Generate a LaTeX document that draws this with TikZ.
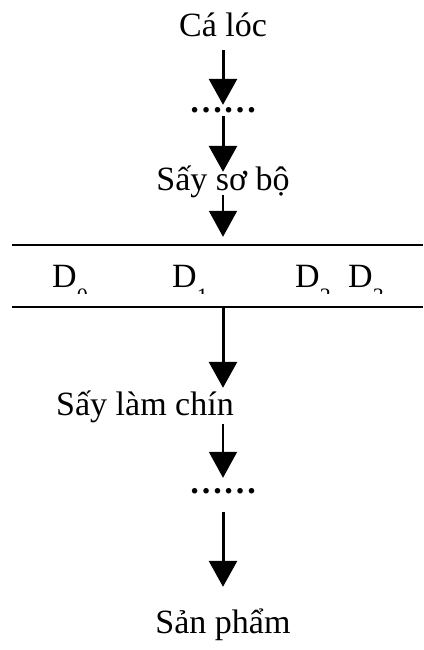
\documentclass[tikz,border=0pt]{standalone}
\usepackage{fontspec}
\setmainfont{Liberation Serif}
\usetikzlibrary{arrows.meta}

% lowered, smaller index after a sample letter
\newcommand{\lowidx}[1]{\raisebox{-16pt}{\fontsize{22}{22}\selectfont #1}}

\begin{document}
\begin{tikzpicture}[
        x=1pt, y=1pt,
        >={Triangle[length=26pt, width=28pt]},
        stage/.style={
            inner sep=0pt,
            text height=24pt,
            text depth=8pt,
            anchor=base,
            font=\fontsize{34}{40}\selectfont
        },
        dots/.style={
            inner sep=0pt,
            text height=4pt,
            text depth=0pt,
            anchor=base,
            font=\fontsize{34}{40}\selectfont\bfseries
        },
        sample/.style={
            inner sep=0pt,
            anchor=base west,
            font=\fontsize{34}{40}\selectfont
        },
        arrow/.style={
            ->,
            line width=3pt
        },
        thin arrow/.style={
            ->,
            line width=2pt
        },
        band line/.style={
            line width=2.2pt
        }
    ]

    \useasboundingbox (0,0) rectangle (423,-650);

    \node (caloc) [stage] at (223,-37) {Cá lóc};

    \node (dots1) [dots] at (223,-113) {……};

    \node (soBo) [stage] at (223,-190) {Sấy sơ bộ};

    \node (band) [minimum width=411pt, minimum height=62pt, inner sep=0pt] at (217.5,-276) {};

    \node (lamChin) [stage] at (145,-415) {Sấy làm chín};

    \node (dots2) [dots] at (223,-493) {……};

    \node (sanPham) [stage] at (223,-633) {Sản phẩm};

    % sample row between the two rules
    \draw [band line] (band.north west) -- (band.north east);
    \draw [band line] (band.south west) -- (band.south east);

    \begin{scope}
        \clip (band.north west) rectangle (423,-293);
        \node (d0) [sample] at (52,-287) {D\lowidx{0}};
        \node (d1) [sample] at (172,-287) {D\lowidx{1}};
        \node (d2) [sample] at (295,-287) {D\lowidx{2}};
        \node (d3) [sample] at (348,-287) {D\lowidx{3}};
    \end{scope}

    \draw [arrow, shorten <=5pt, shorten >=4pt] (caloc.south) -- (dots1.north);

    \draw [arrow, shorten <=3pt, shorten >=-6pt] (dots1.south) -- (soBo.north);

    \draw [thin arrow, shorten <=-3pt, shorten >=8pt] (soBo.south) -- (band.north -| soBo);

    \draw [arrow, shorten >=3pt] (band.south -| caloc) -- (lamChin.north -| caloc);

    \draw [thin arrow, shorten <=1pt, shorten >=11pt] (lamChin.south -| caloc) -- (dots2.north);

    \draw [arrow, shorten <=19pt, shorten >=22pt] (dots2.south) -- (sanPham.north);

\end{tikzpicture}
\end{document}
